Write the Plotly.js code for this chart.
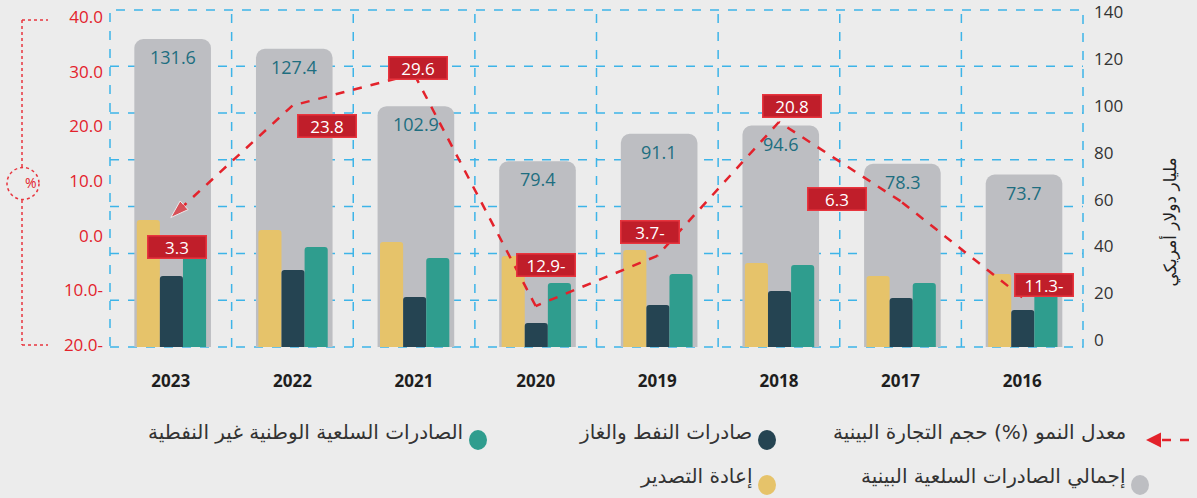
<!DOCTYPE html>
<html>
<head>
<meta charset="utf-8">
<script src="https://cdn.plot.ly/plotly-3.0.1.min.js"></script>
<style>
  html, body { margin:0; padding:0; background:#ECECEC; }
  #chart { width:1197px; height:498px; }
</style>
</head>
<body>
<div id="chart"></div>
<script>
// ---- data ----
const years = ['2023','2022','2021','2020','2019','2018','2017','2016'];
const totalExports = [131.6, 127.4, 102.9, 79.4, 91.1, 94.6, 78.3, 73.7];
const reExports   = [54.3, 50.0, 44.9, 38.9, 41.5, 35.9, 30.3, 31.2];
const oilGas      = [30.3, 32.9, 21.4, 10.3, 17.9, 23.9, 20.9, 15.8];
const nonOil      = [43.6, 42.7, 38.0, 27.4, 31.2, 35.0, 27.4, 24.0];
const growth      = [3.3, 23.8, 29.6, -12.9, -3.7, 20.8, 6.3, -11.3];
const growthText  = ['3.3','23.8','29.6','12.9-','3.7-','20.8','6.3','11.3-'];
const leftTickVals = [40, 30, 20, 10, 0, -10, -20];
const leftTickText = ['40.0','30.0','20.0','10.0','0.0','10.0-','20.0-'];
const rightTickVals = [0, 20, 40, 60, 80, 100, 120, 140];
const gridVals = [20, 40, 60, 80, 100, 120];
const legendLabels = {
  growth: 'معدل النمو (%) حجم التجارة البينية',
  oil: 'صادرات النفط والغاز',
  nonOil: 'الصادرات السلعية الوطنية غير النفطية',
  total: 'إجمالي الصادرات السلعية البينية',
  re: 'إعادة التصدير'
};
const yTitle = 'مليار دولار أمريكي';

// ---- styles ----
const C = {
  gray:'#BDBEC2', yellow:'#E6C36A', dark:'#254452', teal:'#2F9D8E',
  red:'#E3222B', redBox:'#C01E2A', grid:'#3DB4E8', val:'#1E6E80', bg:'#ECECEC'
};
const NUM = '"Open Sans", "Noto Sans", sans-serif';
const AR = '"DejaVu Sans", sans-serif';

const Y3MAX = 144;
const Y2R = [-20.4, 41.3];
const XR = [-0.5, years.length - 0.5];
const xBoundaries = years.slice(1).map((_, i) => i + 0.5);

const traces = [
  { type:'bar', x:years, y:totalExports, width:0.63, offset:-0.3, marker:{color:C.gray, cornerradius:9}, hoverinfo:'skip' },
  { type:'bar', x:years, y:reExports, width:0.19, offset:-0.28, marker:{color:C.yellow, cornerradius:3}, hoverinfo:'skip' },
  { type:'bar', x:years, y:oilGas, width:0.19, offset:-0.09, marker:{color:C.dark, cornerradius:3}, hoverinfo:'skip' },
  { type:'bar', x:years, y:nonOil, width:0.19, offset:0.10, marker:{color:C.teal, cornerradius:3}, hoverinfo:'skip' },
  { type:'scatter', mode:'lines+markers', x:years.slice().reverse(), y:growth.slice().reverse(), yaxis:'y2',
    line:{color:C.red, width:2.5, dash:'dash'},
    marker:{symbol:'arrow', angleref:'previous', color:C.red,
            size:years.map((_,i)=> i===years.length-1 ? 19 : 0)},
    hoverinfo:'skip' }
];

const annotations = [];
const shapes = [];
const gridLine = {color:C.grid, width:1.5, dash:'dash'};

// grid lines (dashed blue) following the axes
gridVals.forEach(v=>{
  shapes.push({type:'line', xref:'paper', yref:'y', x0:0, x1:1, y0:v, y1:v, layer:'below', line:gridLine});
});
xBoundaries.forEach(v=>{
  shapes.push({type:'line', xref:'x', yref:'paper', x0:v, x1:v, y0:0, y1:1, layer:'below', line:gridLine});
});
// plot border (dashed)
shapes.push({type:'rect', xref:'paper', yref:'paper', x0:0, x1:1, y0:0, y1:1, layer:'below', line:gridLine});

// totals inside grey bars (x given as category index)
years.forEach((yr,i)=>{
  annotations.push({x:i, y:totalExports[i], xref:'x', yref:'y', text:totalExports[i].toFixed(1),
    showarrow:false, yshift:-18, xshift:2, font:{family:NUM, size:18, color:C.val}});
});
// growth labels (red boxes)
const gShift = [[6,-29],[35,-20],[4,6],[10,41],[-7,24],[13,16],[-64,2],[22,12]];
years.forEach((yr,i)=>{
  annotations.push({x:i, y:growth[i], xref:'x', yref:'y2', text:growthText[i], showarrow:false,
    xshift:gShift[i][0], yshift:gShift[i][1], width:54, height:18,
    bgcolor:C.redBox, bordercolor:'#E8353E', borderwidth:1.5, borderpad:1.5,
    font:{family:NUM, size:17, color:'#FFFFFF'}});
});
// right axis title
annotations.push({xref:'paper', yref:'paper', x:1.103, y:0.37, text:yTitle, textangle:-90, showarrow:false,
  font:{family:AR, size:17, color:'#222'}});
// % circle text
annotations.push({xref:'paper', yref:'paper', x:-0.0894, y:0.487, text:'%', showarrow:false,
  font:{family:NUM, size:14, color:C.red}});

// legend (custom, RTL)
const px = v => (v - 110) / 973;
const py = v => (347 - v) / 337;
const LEG_FONT = {family:AR, size:20, color:'#333'};
const legendItems = [
  {text:legendLabels.nonOil, color:C.teal, cx:478, cy:440},
  {text:legendLabels.oil, color:C.dark, cx:767, cy:440},
  {text:legendLabels.total, color:C.gray, cx:1140, cy:485},
  {text:legendLabels.re, color:C.yellow, cx:767, cy:485}
];
legendItems.forEach(it=>{
  shapes.push({type:'circle', xref:'paper', yref:'paper', xsizemode:'pixel', ysizemode:'pixel',
    xanchor:px(it.cx), yanchor:py(it.cy), x0:-9, x1:9, y0:-10, y1:10,
    fillcolor:it.color, line:{width:0}});
  annotations.push({xref:'paper', yref:'paper', x:px(it.cx-13), y:py(it.cy+6), xanchor:'right', text:it.text,
    showarrow:false, font:LEG_FONT});
});
// growth legend entry
annotations.push({xref:'paper', yref:'paper', x:px(1128), y:py(446), xanchor:'right', text:legendLabels.growth,
  showarrow:false, font:LEG_FONT});
annotations.push({xref:'paper', yref:'paper', x:px(1146), y:py(440), ax:14, ay:0, text:'', showarrow:true,
  arrowhead:2, arrowsize:1.2, arrowwidth:2.5, arrowcolor:C.red});
shapes.push({type:'line', xref:'paper', yref:'paper', x0:px(1162), x1:px(1197), y0:py(440), y1:py(440),
  line:{color:C.red, width:2.5, dash:'dash'}});

// left % bracket
const redDot = {color:'#E8353E', width:1.5, dash:'dot'};
shapes.push({type:'line', xref:'paper', yref:'paper', x0:px(22), x1:px(22), y0:py(20), y1:py(167), line:redDot});
shapes.push({type:'line', xref:'paper', yref:'paper', x0:px(22), x1:px(22), y0:py(200), y1:py(345), line:redDot});
shapes.push({type:'line', xref:'paper', yref:'paper', x0:px(22), x1:px(48), y0:py(20), y1:py(20), line:redDot});
shapes.push({type:'line', xref:'paper', yref:'paper', x0:px(22), x1:px(48), y0:py(345), y1:py(345), line:redDot});
shapes.push({type:'circle', xref:'paper', yref:'paper', xsizemode:'pixel', ysizemode:'pixel',
  xanchor:px(23), yanchor:py(183.5), x0:-16, x1:16, y0:-16, y1:16, line:redDot});

const layout = {
  width:1197, height:498,
  margin:{l:110, r:114, t:10, b:151},
  paper_bgcolor:C.bg, plot_bgcolor:C.bg,
  barmode:'overlay', showlegend:false,
  xaxis:{type:'category', categoryorder:'array', categoryarray:years, range:XR, autorange:false,
    showgrid:false, ticks:'',
    ticklabelstandoff:22, tickfont:{family:NUM, size:17, color:'#1E1E1E', weight:'bold'},
    showline:false, zeroline:false},
  yaxis:{side:'right', range:[0, Y3MAX], autorange:false, tickvals:rightTickVals, showgrid:false, zeroline:false,
    ticklabelstandoff:10, ticklabelshift:-7, tickfont:{family:NUM, size:17, color:'#333'}},
  yaxis2:{overlaying:'y', side:'left', range:Y2R, autorange:false, tickvals:leftTickVals, ticktext:leftTickText,
    showgrid:false, zeroline:false, ticklabelstandoff:6, tickfont:{family:NUM, size:17, color:C.red}},
  annotations:annotations, shapes:shapes
};

Plotly.newPlot('chart', traces, layout, {displayModeBar:false, staticPlot:true});
</script>
</body>
</html>
